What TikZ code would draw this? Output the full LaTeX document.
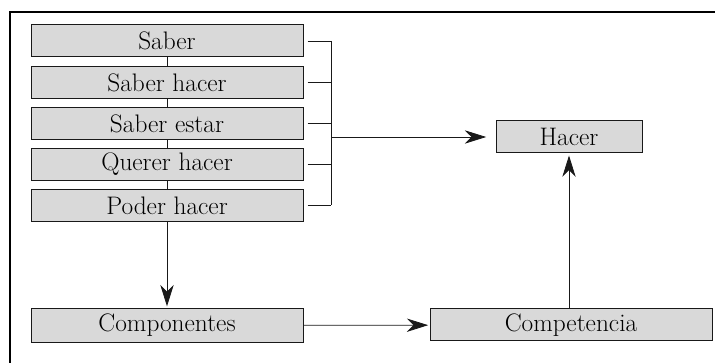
\documentclass[tikz,border=0pt]{standalone}
\usetikzlibrary{arrows.meta}
\definecolor{boxgray}{RGB}{217,217,217}
\begin{document}
\begin{tikzpicture}[x=0.75pt,y=0.75pt,yscale=-1,xscale=1,
  box/.style={draw=black!90, fill=boxgray, line width=0.75pt, minimum width=204pt, minimum height=24pt, inner sep=0pt, font=\fontsize{19}{21}\selectfont},
  link/.style={draw=black!90, line width=0.6pt},
  arr/.style={link, -{Stealth[length=16pt,width=10pt,inset=5pt]}}]
\useasboundingbox (0, 0) rectangle (715, 363);

% frame
\draw [line width=0.9pt] (10, 363) -- (10, 12) -- (715, 12);

% left column
\node [box] (saber) at (167, 41) {Saber};
\node [box] (saberhacer) at (167, 82.5) {Saber hacer};
\node [box] (saberestar) at (167, 123.5) {Saber estar};
\node [box] (quererhacer) at (167, 164.5) {Querer hacer};
\node [box] (poderhacer) at (167, 205.5) {Poder hacer};

\draw [link] (saber) -- (saberhacer);
\draw [link] (saberhacer) -- (saberestar);
\draw [link] (saberestar) -- (quererhacer);
\draw [link] (quererhacer) -- (poderhacer);

% bracket
\coordinate (bus) at (331, 137);
\draw [link] ([xshift=3pt]saber.east) -- (saber.east -| bus);
\draw [link] ([xshift=3pt]saberhacer.east) -- (saberhacer.east -| bus);
\draw [link] ([xshift=3pt]saberestar.east) -- (saberestar.east -| bus);
\draw [link] ([xshift=3pt]quererhacer.east) -- (quererhacer.east -| bus);
\draw [link] ([xshift=3pt]poderhacer.east) -- (poderhacer.east -| bus);
\draw [link] (saber.east -| bus) -- (poderhacer.east -| bus);

% right part
\node [box, minimum width=109.5pt] (hacer) at (569, 137) {Hacer};
\node [box, minimum height=25pt] (componentes) at (167, 325.5) {Componentes};
\node [box, minimum width=211.5pt] (competencia) at (571, 325) {Competencia};

\draw [arr, shorten >=7pt] (bus) -- (hacer.west);
\draw [arr, shorten >=1.5pt] (poderhacer) -- (componentes);
\draw [arr, shorten >=1pt] (componentes) -- (competencia);
\draw [arr, shorten >=1.5pt] (competencia.north -| hacer.south) -- (hacer.south);

\end{tikzpicture}
\end{document}
